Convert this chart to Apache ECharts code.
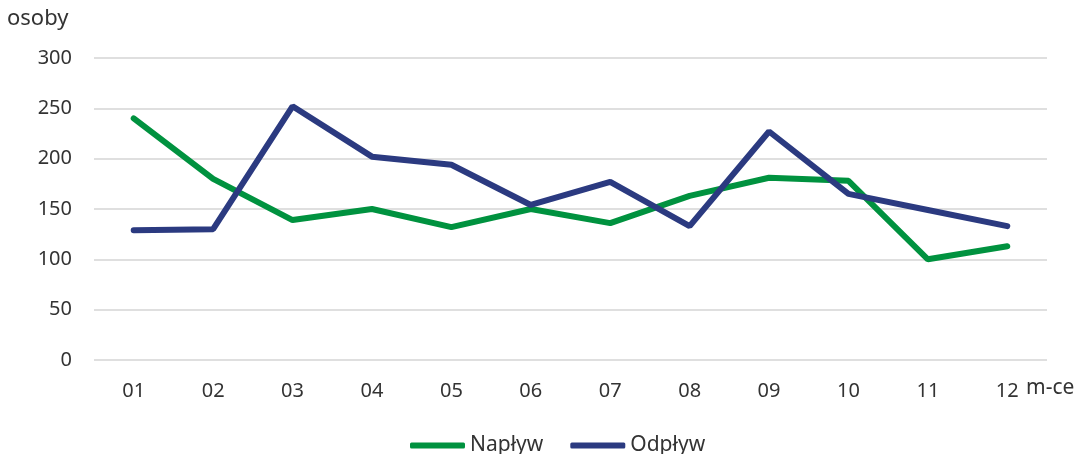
<!DOCTYPE html>
<html>
<head>
<meta charset="utf-8">
<script src="https://cdn.jsdelivr.net/npm/echarts@6/dist/echarts.min.js"></script>
<style>
  html, body { margin: 0; padding: 0; background: #fff; }
</style>
</head>
<body>
<div id="chart" style="width: 1081px; height: 454px"></div>
<script>
const months = ["01", "02", "03", "04", "05", "06", "07", "08", "09", "10", "11", "12"];
const naplyw = [240, 180, 139, 150, 132, 150, 136, 163, 181, 178, 100, 113];
const odplyw = [129, 130, 252, 202, 194, 154, 177, 133, 227, 165, 149, 133];
const yTicks = [0, 50, 100, 150, 200, 250, 300];

const font = "'Noto Sans', sans-serif";
const chart = echarts.init(document.getElementById("chart"));

// wykres napływu i odpływu w miesiącach
const option = {
  animation: false,
  textStyle: { fontFamily: font },
  grid: { left: 94, right: 34, top: 58, bottom: 94 },
  legend: {
    top: 430,
    left: 405,
    itemWidth: 55,
    itemHeight: 6,
    itemGap: 27,
    icon: "roundRect",
    textStyle: { fontSize: 21, color: "#333", fontFamily: font },
    data: ["Napływ", "Odpływ"]
  },
  xAxis: {
    type: "category",
    data: months,
    axisLine: { show: false },
    axisTick: { show: false },
    axisLabel: { fontSize: 20, color: "#333", margin: 21 }
  },
  yAxis: {
    type: "value",
    min: yTicks[0],
    max: yTicks[yTicks.length - 1],
    interval: 50,
    axisLabel: { fontSize: 20, color: "#333", margin: 22 },
    splitLine: { lineStyle: { color: "#d4d4d4", width: 1.5 } }
  },
  graphic: [
    { type: "text", left: 7, top: 8, style: { text: "osoby", fontSize: 22, fill: "#333", fontFamily: font } },
    { type: "text", left: 1026, top: 378, style: { text: "m-ce", fontSize: 21, fill: "#333", fontFamily: font } }
  ],
  series: [
    {
      name: "Napływ",
      type: "line",
      data: naplyw,
      color: "#00923f",
      symbol: "none",
      lineStyle: { width: 6, cap: "round" }
    },
    {
      name: "Odpływ",
      type: "line",
      data: odplyw,
      color: "#2b3a80",
      symbol: "none",
      lineStyle: { width: 6, cap: "round" }
    }
  ]
};
chart.setOption(option);
</script>
</body>
</html>
